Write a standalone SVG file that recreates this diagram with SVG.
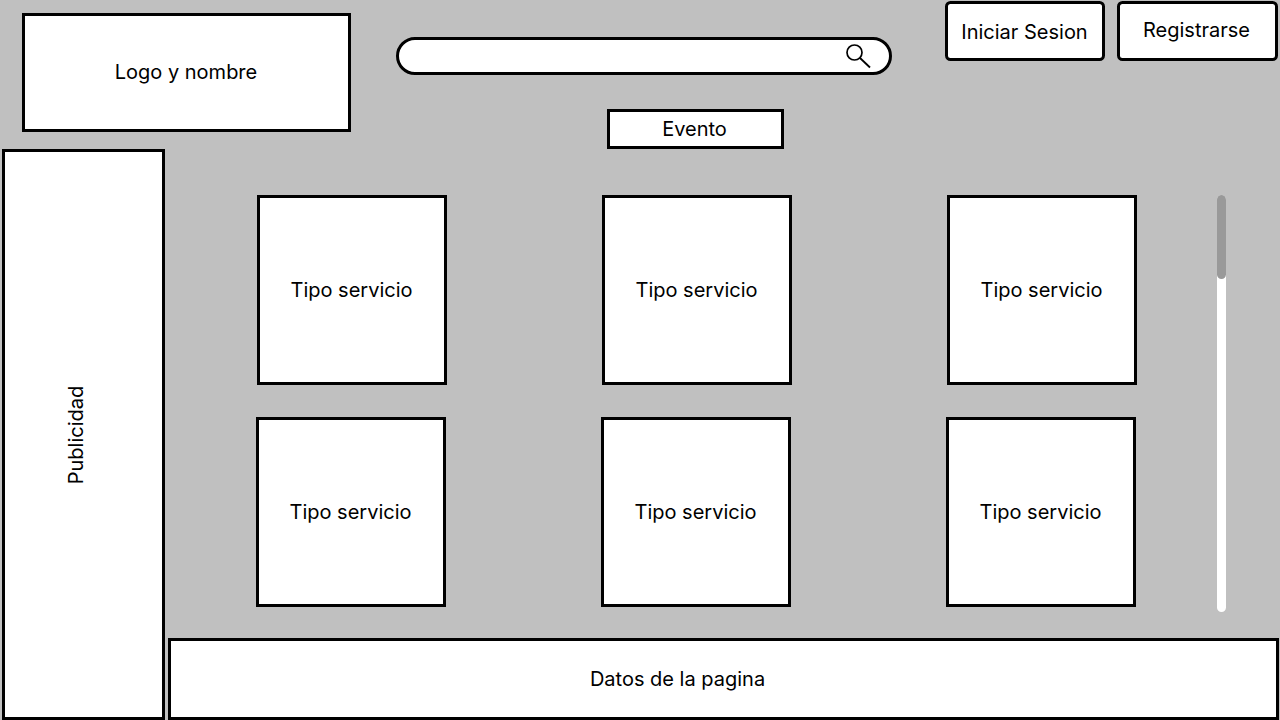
<svg xmlns="http://www.w3.org/2000/svg" width="1280" height="720" viewBox="0 0 1280 720">
<style>
.b{fill:#fff;stroke:#000;stroke-width:3}
text{font-family:Inter,"Liberation Sans",sans-serif;font-size:20px;fill:#000;text-anchor:middle;font-weight:385}
</style>
<rect width="1280" height="720" fill="#c0c0c0"/>
<g id="logo"><rect class="b" x="23.500" y="14.500" width="326" height="116"/><text x="186" y="79">Logo y nombre</text></g>
<g id="search"><rect class="b" x="397.500" y="38.500" width="493" height="35" rx="17.500"/><circle cx="854.500" cy="52.500" r="7.500" fill="none" stroke="#000" stroke-width="1.700"/><path d="M860 58L870 67.500" stroke="#000" stroke-width="1.800" fill="none"/></g>
<g id="login"><rect class="b" x="946.500" y="2.500" width="157" height="57" rx="4"/><text x="1024.500" y="39">Iniciar Sesion</text></g>
<g id="register"><rect class="b" x="1118.500" y="2.500" width="158" height="57" rx="4"/><text x="1196.500" y="37">Registrarse</text></g>
<g id="evento"><rect class="b" x="608.500" y="110.500" width="174" height="37"/><text x="694.500" y="136">Evento</text></g>
<g id="publicidad"><rect class="b" x="3.500" y="150.500" width="160" height="568"/><text transform="translate(83 435) rotate(-90)">Publicidad</text></g>
<g id="s1"><rect class="b" x="258.500" y="196.500" width="187" height="187"/><text x="351.500" y="297">Tipo servicio</text></g>
<g id="s2"><rect class="b" x="603.500" y="196.500" width="187" height="187"/><text x="696.500" y="297">Tipo servicio</text></g>
<g id="s3"><rect class="b" x="948.500" y="196.500" width="187" height="187"/><text x="1041.500" y="297">Tipo servicio</text></g>
<g id="s4"><rect class="b" x="257.500" y="418.500" width="187" height="187"/><text x="350.500" y="519">Tipo servicio</text></g>
<g id="s5"><rect class="b" x="602.500" y="418.500" width="187" height="187"/><text x="695.500" y="519">Tipo servicio</text></g>
<g id="s6"><rect class="b" x="947.500" y="418.500" width="187" height="187"/><text x="1040.500" y="519">Tipo servicio</text></g>
<g id="scrollbar"><rect x="1217" y="195" width="9" height="417" rx="4.500" fill="#fff"/><rect x="1217" y="195" width="9" height="84" rx="4.500" fill="#999"/></g>
<g id="footer"><rect class="b" x="169.500" y="639.500" width="1108" height="79"/><text x="677.500" y="686">Datos de la pagina</text></g>
</svg>
